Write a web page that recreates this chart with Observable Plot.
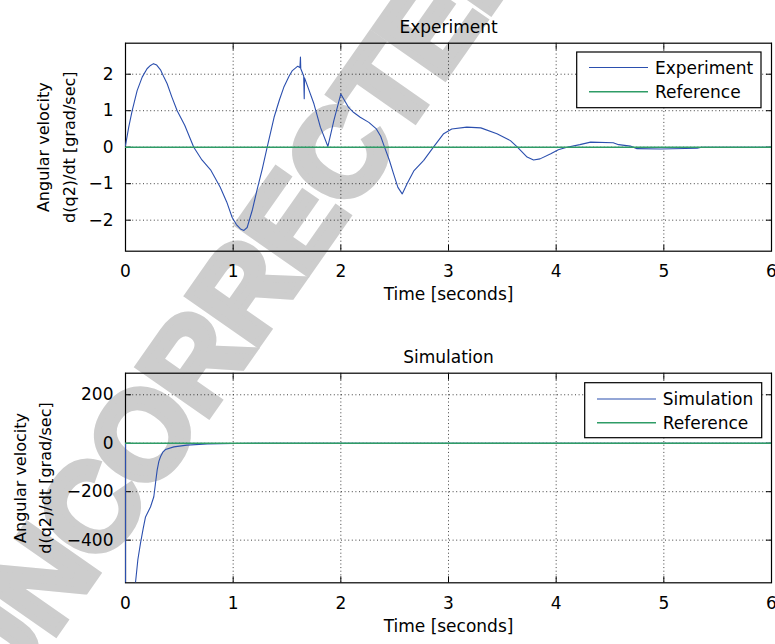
<!DOCTYPE html>
<html><head><meta charset="utf-8">
<script src="https://cdn.jsdelivr.net/npm/d3@7"></script>
<script src="https://cdn.jsdelivr.net/npm/@observablehq/plot@0.6"></script>
<style>
body{margin:0;background:#fff;}
#wrap{position:relative;width:775px;height:644px;overflow:hidden;font-family:"DejaVu Sans",sans-serif;}
#wrap > svg{position:absolute;left:0;}
</style></head><body><div id="wrap"></div>
<script>
// ---- data ----
const expT = [0,0.03,0.062,0.108,0.155,0.2,0.232,0.26,0.29,0.325,0.36,0.387,0.43,0.48,0.55,0.634,0.71,0.79,0.88,0.94,0.99,1.03,1.068,1.1,1.13,1.145,1.18,1.22,1.27,1.316,1.38,1.43,1.47,1.52,1.55,1.6,1.62,1.625,1.628,1.655,1.66,1.663,1.7,1.75,1.81,1.88,1.935,2.0,2.04,2.07,2.12,2.18,2.26,2.33,2.37,2.4,2.45,2.49,2.53,2.57,2.6,2.615,2.68,2.77,2.86,2.955,3.03,3.17,3.3,3.45,3.575,3.64,3.73,3.79,3.85,3.95,4.02,4.1,4.22,4.32,4.53,4.58,4.69,4.75,4.97,5.31,5.35,6.0];
const expV = [0.05,0.55,1.0,1.55,1.92,2.15,2.24,2.29,2.25,2.12,1.9,1.74,1.38,1.0,0.6,0,-0.35,-0.62,-1.1,-1.5,-1.92,-2.12,-2.24,-2.28,-2.2,-2.05,-1.7,-1.19,-0.6,0,0.82,1.3,1.64,1.95,2.1,2.22,2.18,2.47,2.15,1.95,1.33,1.9,1.6,1.19,0.55,0.02,0.73,1.46,1.25,1.1,0.95,0.82,0.68,0.5,0.3,0.05,-0.35,-0.73,-1.1,-1.28,-1.1,-1.0,-0.64,-0.36,0,0.37,0.5,0.55,0.53,0.37,0.18,0,-0.27,-0.35,-0.32,-0.18,-0.07,0,0.07,0.14,0.12,0.07,0.03,-0.04,-0.05,-0.03,0,0];
const simT = [0,0.001,0.06,0.093,0.115,0.139,0.165,0.186,0.232,0.263,0.28,0.294,0.31,0.325,0.345,0.371,0.449,0.57,0.76,1.0,1.3,6.0];
const simV = [0,-2000,-900,-575,-480,-413,-350,-304,-263,-221,-160,-111,-75,-56,-38,-26,-15,-8,-3,-1,0,0];
const refT = [0, 6];
const refV = [0, 0];
const xTicks = [0,1,2,3,4,5,6];
const expYTicks = [-2,-1,0,1,2];
const simYTicks = [-400,-200,0,200];
const expYDomain = [-2.85, 2.85];
const simYDomain = [-576, 289];
const panelTitles = ["Experiment", "Simulation"];
const seriesNames = [["Experiment","Reference"],["Simulation","Reference"]];
const xLabel = "Time [seconds]";
const yLabel1 = "Angular velocity";
const yLabel2 = "d(q2)/dt [grad/sec]";
const watermark = "UNCORRECTED";

const BLUE = "#2b4fae", GREEN = "#2e9c66";
const FONT = "DejaVu Sans";
const wrap = document.getElementById("wrap");

// watermark background
const bg = d3.select(wrap).append("svg").attr("width",775).attr("height",644).style("top","0px");
bg.append("text").text(watermark)
  .attr("transform","translate(233,305) rotate(-55)")
  .attr("text-anchor","middle").attr("dominant-baseline","central")
  .attr("font-family","Liberation Sans, Arial, sans-serif").attr("font-weight","bold")
  .attr("font-size",124).attr("letter-spacing",-3).attr("fill","#cdcdcd")
  .attr("stroke","#cdcdcd").attr("stroke-width",7).attr("stroke-linejoin","miter");

function panel(cfg) {
  const line = cfg.t.map((t,i)=>({t, v: cfg.v[i]}));
  const ref = refT.map((t,i)=>({t, v: refV[i]}));
  const H = 322;
  const grid = {stroke:"#000", strokeOpacity:0.75, strokeDasharray:"1,2.6", strokeWidth:1};
  const svg = Plot.plot({
    width: 775, height: H,
    marginLeft: 125, marginRight: 4, marginTop: cfg.mt, marginBottom: H - cfg.mt - cfg.fh,
    x: {domain: [0,6]},
    y: {domain: cfg.yDomain},
    style: {background:"transparent", fontFamily: FONT, fontSize:"17px", color:"#000", overflow:"visible"},
    marks: [
      Plot.gridX(xTicks, grid),
      Plot.gridY(cfg.yTicks, grid),
      Plot.axisX(xTicks, {anchor:"bottom", tickSize:0, tickPadding:14, fontSize:17, label:null}),
      Plot.axisY(cfg.yTicks, {anchor:"left", tickSize:0, tickPadding:12, fontSize:17, label:null}),
      Plot.axisX(xTicks, {anchor:"bottom", tickSize:-6, tickFormat:()=>"", label:null}),
      Plot.axisX(xTicks, {anchor:"top", tickSize:-6, tickFormat:()=>"", label:null}),
      Plot.axisY(cfg.yTicks, {anchor:"left", tickSize:-6, tickFormat:()=>"", label:null}),
      Plot.axisY(cfg.yTicks, {anchor:"right", tickSize:-6, tickFormat:()=>"", label:null}),
      Plot.frame({stroke:"#000", strokeWidth:1.2}),
      Plot.line(line, {x:"t", y:"v", stroke: BLUE, strokeWidth: 1.1, clip: true}),
      Plot.line(ref, {x:"t", y:"v", stroke: GREEN, strokeWidth: 1.6, clip: true}),
      Plot.text([cfg.title], {frameAnchor:"top", dy: -22, fontSize:17, fill:"#000"}),
      Plot.text([xLabel], {frameAnchor:"bottom", dy: 49, fontSize:17, fill:"#000"}),
      Plot.text([yLabel1], {frameAnchor:"left", dx: cfg.ydx1, rotate:-90, textAnchor:"middle", fontSize:16, fill:"#000"}),
      Plot.text([yLabel2], {frameAnchor:"left", dx: cfg.ydx2, rotate:-90, textAnchor:"middle", fontSize:16, fill:"#000"})
    ]
  });
  svg.style.top = cfg.top + "px";
  wrap.appendChild(svg);
  const g = d3.select(svg).append("g");
  const b = cfg.box;
  g.append("rect").attr("x",b.x).attr("y",b.y).attr("width",b.w).attr("height",b.h)
    .attr("fill","#fff").attr("stroke","#000").attr("stroke-width",1.2);
  [BLUE, GREEN].forEach((c,i)=>{
    const y = b.rows[i];
    g.append("line").attr("x1",b.lx1).attr("x2",b.lx2).attr("y1",y).attr("y2",y)
      .attr("stroke",c).attr("stroke-width", i ? 1.6 : 1.1);
    g.append("text").text(cfg.names[i]).attr("x",b.tx).attr("y",y)
      .attr("text-anchor","start").attr("dominant-baseline","central")
      .attr("font-family",FONT).attr("font-size",17).attr("fill","#000");
  });
}

panel({title: panelTitles[0], names: seriesNames[0], t: expT, v: expV, yDomain: expYDomain, yTicks: expYTicks,
  top: 0, mt: 42.7, fh: 208, ydx1: -81.5, ydx2: -56,
  box: {x:576.7, y:52, w:184.3, h:55.7, lx1:589, lx2:648, tx:655, rows:[67.5, 91.7]}});
panel({title: panelTitles[1], names: seriesNames[1], t: simT, v: simV, yDomain: simYDomain, yTicks: simYTicks,
  top: 322, mt: 50.7, fh: 209.6, ydx1: -105, ydx2: -80,
  box: {x:584.7, y:60.7, w:177, h:55, lx1:597, lx2:656, tx:662.7, rows:[77, 100.7]}});
</script></body></html>
